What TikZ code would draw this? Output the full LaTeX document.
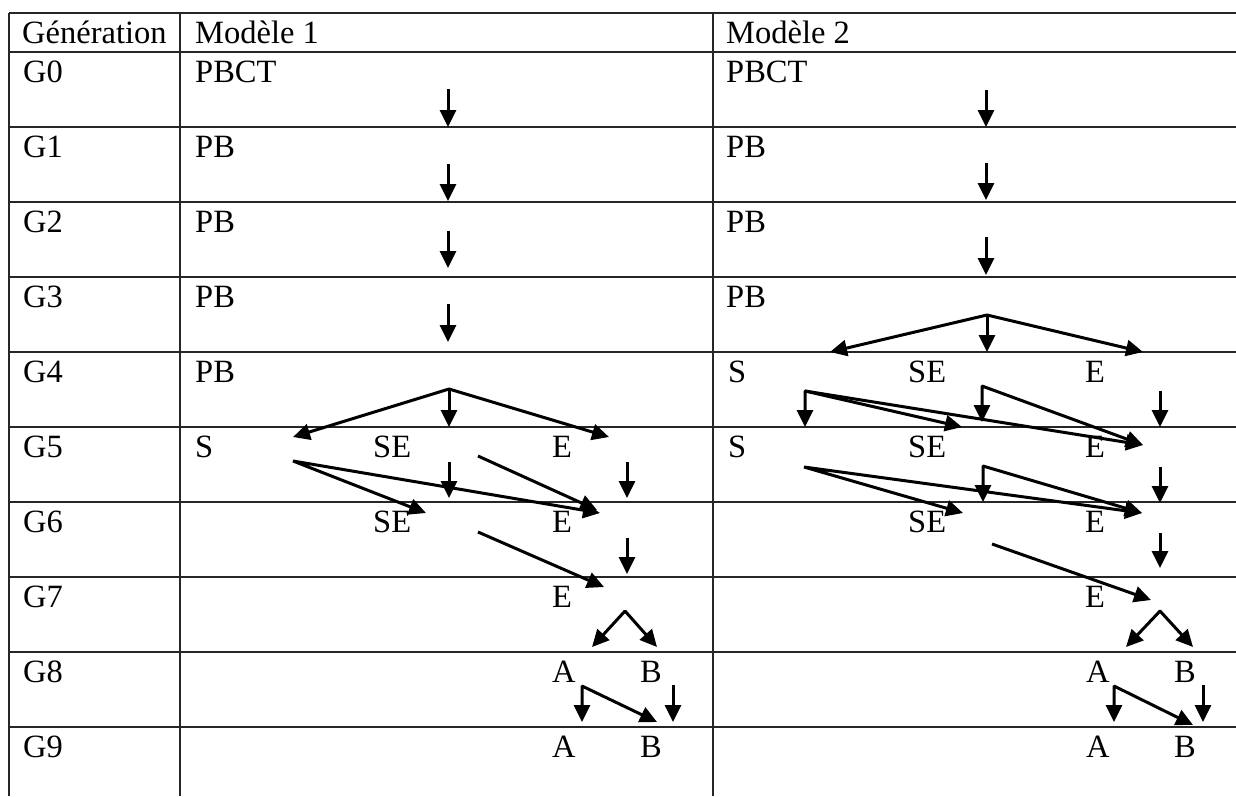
\documentclass[tikz,border=0pt]{standalone}
\usepackage{fontspec}
\setmainfont{Liberation Serif}
\usetikzlibrary{arrows.meta}
\begin{document}
\begin{tikzpicture}[x=1pt,y=-1pt,
  gridline/.style={line width=1.5pt, black!85},
  lbl/.style={anchor=base west, inner sep=0pt, font=\fontsize{32.5}{38}\selectfont},
  arr/.style={line width=3pt, -{Triangle[length=17pt,width=16pt]}},
  arrboth/.style={line width=3pt, line join=bevel, {Triangle[length=17pt,width=16pt]}-{Triangle[length=17pt,width=16pt]}}]
\useasboundingbox (0,0) rectangle (1236,796);
\fill[white] (0,0) rectangle (1236,796);
% table grid
\foreach \y in {13,52,127,202,277,352,427,502,577,652,727}
  \draw[gridline] (9,\y) -- (1236,\y);
\foreach \x in {9,180,713}
  \draw[gridline] (\x,13) -- (\x,796);
% header
\node[lbl] (hgen) at (22,43) {Génération};
\node[lbl] (hm1) at (195,43) {Modèle 1};
\node[lbl] (hm2) at (726,43) {Modèle 2};
% generations
\foreach \k in {0,...,9}
  \node[lbl] (g\k) at (23,82+75*\k) {G\k};
% model 1 labels
\node[lbl] (a0) at (195,82) {PBCT};
\node[lbl] (a1) at (195,157) {PB};
\node[lbl] (a2) at (195,232) {PB};
\node[lbl] (a3) at (195,307) {PB};
\node[lbl] (a4) at (195,382) {PB};
\node[lbl] (a5s) at (195,457) {S};
\node[lbl] (a5se) at (373,457) {SE};
\node[lbl] (a5e) at (552,457) {E};
\node[lbl] (a6se) at (373,532) {SE};
\node[lbl] (a6e) at (552,532) {E};
\node[lbl] (a7e) at (552,607) {E};
\node[lbl] (a8a) at (552,682) {A};
\node[lbl] (a8b) at (640,682) {B};
\node[lbl] (a9a) at (552,757) {A};
\node[lbl] (a9b) at (640,757) {B};
% model 2 labels
\node[lbl] (b0) at (726,82) {PBCT};
\node[lbl] (b1) at (726,157) {PB};
\node[lbl] (b2) at (726,232) {PB};
\node[lbl] (b3) at (726,307) {PB};
\node[lbl] (b4s) at (728,382) {S};
\node[lbl] (b4se) at (908,382) {SE};
\node[lbl] (b4e) at (1085,382) {E};
\node[lbl] (b5s) at (728,457) {S};
\node[lbl] (b5se) at (908,457) {SE};
\node[lbl] (b5e) at (1085,457) {E};
\node[lbl] (b6se) at (908,532) {SE};
\node[lbl] (b6e) at (1085,532) {E};
\node[lbl] (b7e) at (1085,607) {E};
\node[lbl] (b8a) at (1086,682) {A};
\node[lbl] (b8b) at (1174,682) {B};
\node[lbl] (b9a) at (1086,757) {A};
\node[lbl] (b9b) at (1174,757) {B};
% ---------- model 1 connectors ----------
\coordinate (p0s) at (448,89);  \coordinate (p0t) at (448,127);
\coordinate (p1s) at (448,164); \coordinate (p1t) at (448,201);
\coordinate (p2s) at (448,231); \coordinate (p2t) at (448,268);
\coordinate (p3s) at (448,304); \coordinate (p3t) at (448,342);
\draw[arr] (p0s) -- (p0t);
\draw[arr] (p1s) -- (p1t);
\draw[arr] (p2s) -- (p2t);
\draw[arr] (p3s) -- (p3t);
\coordinate (p4apex) at (449,389);
\coordinate (p4L) at (293,437); \coordinate (p4M) at (449,427); \coordinate (p4R) at (609,437);
\draw[arrboth] (p4L) -- (p4apex) -- (p4R);
\draw[arr] (p4apex) -- (p4M);
\coordinate (p5so) at (293,461);
\coordinate (p6set) at (426,513);
\coordinate (p6et) at (600,513);
\draw[arrboth] (p6set) -- (p5so) -- (p6et);
\coordinate (p5ms) at (449,462); \coordinate (p5mt) at (449,498);
\draw[arr] (p5ms) -- (p5mt);
\coordinate (p5seo) at (478,456); \coordinate (p6et2) at (597,510);
\draw[arr] (p5seo) -- (p6et2);
\coordinate (p5rs) at (627,462); \coordinate (p5rt) at (627,498);
\draw[arr] (p5rs) -- (p5rt);
\coordinate (p6seo) at (478,532); \coordinate (p7et) at (604,587);
\draw[arr] (p6seo) -- (p7et);
\coordinate (p6rs) at (627,538); \coordinate (p6rt) at (627,574);
\draw[arr] (p6rs) -- (p6rt);
\coordinate (p7apex) at (625,611);
\coordinate (p7L) at (592,647); \coordinate (p7R) at (657,647);
\draw[arrboth] (p7L) -- (p7apex) -- (p7R);
\coordinate (p8ao) at (582,686);
\coordinate (p8av) at (582,722); \coordinate (p8ad) at (657,722);
\draw[arrboth] (p8av) -- (p8ao) -- (p8ad);
\coordinate (p8bs) at (673,685); \coordinate (p8bt) at (673,722);
\draw[arr] (p8bs) -- (p8bt);
% ---------- model 2 connectors ----------
\coordinate (q0s) at (986,90);  \coordinate (q0t) at (986,127);
\coordinate (q1s) at (986,163); \coordinate (q1t) at (986,200);
\coordinate (q2s) at (986,237); \coordinate (q2t) at (986,275);
\draw[arr] (q0s) -- (q0t);
\draw[arr] (q1s) -- (q1t);
\draw[arr] (q2s) -- (q2t);
\coordinate (q3apex) at (987,315);
\coordinate (q3L) at (830,352); \coordinate (q3M) at (987,352); \coordinate (q3R) at (1143,352);
\draw[arrboth] (q3L) -- (q3apex) -- (q3R);
\draw[arr] (q3apex) -- (q3M);
\coordinate (q4so) at (805,391);
\coordinate (q4sv) at (805,427);
\coordinate (q5set) at (962,427);
\coordinate (q5et) at (1143,445);
\draw[arrboth] (q4sv) -- (q4so) -- (q5set);
\draw[arr] (q4so) -- (q5et);
\coordinate (q4seo) at (982,386);
\coordinate (q4sev) at (982,422);
\draw[arrboth] (q4sev) -- (q4seo) -- (q5et);
\coordinate (q4rs) at (1160,391); \coordinate (q4rt) at (1160,427);
\draw[arr] (q4rs) -- (q4rt);
\coordinate (q5so) at (804,467);
\coordinate (q6set) at (963,513);
\coordinate (q6et) at (1142,513);
\draw[arrboth] (q6set) -- (q5so) -- (q6et);
\coordinate (q5seo) at (983,466);
\coordinate (q5sev) at (983,502);
\draw[arrboth] (q5sev) -- (q5seo) -- (q6et);
\coordinate (q5rs) at (1160,467); \coordinate (q5rt) at (1160,503);
\draw[arr] (q5rs) -- (q5rt);
\coordinate (q6seo) at (992,544); \coordinate (q7et) at (1151,600);
\draw[arr] (q6seo) -- (q7et);
\coordinate (q6rs) at (1160,533); \coordinate (q6rt) at (1160,568);
\draw[arr] (q6rs) -- (q6rt);
\coordinate (q7apex) at (1160,611);
\coordinate (q7L) at (1126,647); \coordinate (q7R) at (1193,647);
\draw[arrboth] (q7L) -- (q7apex) -- (q7R);
\coordinate (q8ao) at (1114,686);
\coordinate (q8av) at (1114,722); \coordinate (q8ad) at (1193,725);
\draw[arrboth] (q8av) -- (q8ao) -- (q8ad);
\coordinate (q8bs) at (1203,685); \coordinate (q8bt) at (1203,722);
\draw[arr] (q8bs) -- (q8bt);
\end{tikzpicture}
\end{document}
